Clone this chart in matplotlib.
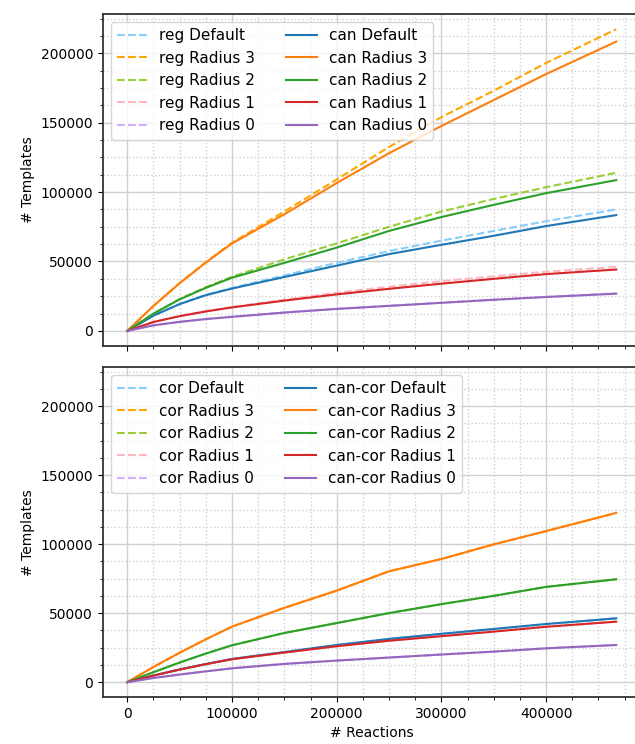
import matplotlib.pyplot as plt
from matplotlib.ticker import MultipleLocator
import numpy as np

# ==================== Data ====================
reactions = [0, 25000, 50000, 75000, 100000, 150000, 200000, 250000,
             300000, 350000, 400000, 467000]

# top panel: regular vs canonical templates
reg_default = [0, 11000, 19500, 26000, 31000, 40000, 49000, 57500, 65000, 72000, 79000, 87500]
reg_r3 = [0, 18000, 34500, 49500, 63500, 86000, 109100, 132500, 154000, 173000, 193000, 217300]
reg_r2 = [0, 12500, 23000, 31500, 39000, 51500, 63000, 75000, 86000, 95000, 103500, 113900]
reg_r1 = [0, 6500, 10800, 14200, 17200, 22500, 27500, 31800, 35800, 39300, 42600, 46100]
reg_r0 = [0, 4000, 6500, 8500, 10200, 13300, 15900, 18100, 20300, 22500, 24500, 27000]

can_default = [0, 11000, 19300, 25700, 30500, 38800, 47000, 55300, 62000, 68500, 75500, 83400]
can_r3 = [0, 18000, 34300, 49200, 63000, 84000, 106500, 128000, 147600, 166300, 185000, 208400]
can_r2 = [0, 12400, 22700, 31000, 38300, 49000, 60000, 72000, 82000, 90800, 99200, 108600]
can_r1 = [0, 6400, 10600, 14000, 16900, 21800, 26300, 30300, 34000, 37500, 40900, 44200]
can_r0 = [0, 4000, 6500, 8500, 10100, 13200, 15800, 18000, 20200, 22400, 24400, 26800]

# bottom panel: corrected vs canonical-corrected templates
cor_default = [0, 4800, 9200, 13100, 16800, 21800, 26900, 31300, 35000, 38500, 42100, 46200]
cor_r3 = [0, 11000, 21300, 31000, 40200, 53800, 66300, 80300, 89200, 99800, 109400, 122600]
cor_r2 = [0, 7200, 14200, 20700, 26700, 35600, 42800, 50000, 56500, 62500, 69000, 74500]
cor_r1 = [0, 4700, 9100, 13000, 16600, 21400, 26000, 30000, 33300, 36600, 40100, 43800]
cor_r0 = [0, 3000, 5500, 7800, 10000, 13200, 15600, 17800, 20000, 22100, 24500, 26900]

cancor_default = [0, 4800, 9200, 13100, 16800, 21800, 26900, 31300, 35000, 38500, 42100, 46200]
cancor_r3 = [0, 11000, 21300, 31000, 40200, 53800, 66300, 80300, 89200, 99800, 109400, 122600]
cancor_r2 = [0, 7200, 14200, 20700, 26700, 35600, 42800, 50000, 56500, 62500, 69000, 74500]
cancor_r1 = [0, 4700, 9100, 13000, 16600, 21400, 26000, 30000, 33300, 36600, 40100, 43800]
cancor_r0 = [0, 3000, 5500, 7800, 10000, 13200, 15600, 17800, 20000, 22100, 24500, 26900]

labels = ["Default", "Radius 3", "Radius 2", "Radius 1", "Radius 0"]
light_colors = ['lightskyblue', 'orange', 'yellowgreen', 'lightpink', '#d2aeff']
dark_colors = ['tab:blue', 'tab:orange', 'tab:green', 'tab:red', 'tab:purple']

# ==================== Figure ====================
fig = plt.figure(figsize=(6.35, 7.44), dpi=100)
ax1 = fig.add_axes([0.162, 0.535, 0.847, 0.446])
ax2 = fig.add_axes([0.162, 0.063, 0.847, 0.4435], sharex=ax1, sharey=ax1)

panels = [
    (ax1, "reg", "can", [reg_default, reg_r3, reg_r2, reg_r1, reg_r0],
     [can_default, can_r3, can_r2, can_r1, can_r0]),
    (ax2, "cor", "can-cor", [cor_default, cor_r3, cor_r2, cor_r1, cor_r0],
     [cancor_default, cancor_r3, cancor_r2, cancor_r1, cancor_r0]),
]

for ax, pre_a, pre_b, dashed, solid in panels:
    for lab, ys, col in zip(labels, dashed, light_colors):
        ax.plot(reactions, ys, '--', color=col, linewidth=1.5, label=f"{pre_a} {lab}")
    for lab, ys, col in zip(labels, solid, dark_colors):
        ax.plot(reactions, ys, '-', color=col, linewidth=1.5, label=f"{pre_b} {lab}")

    ax.xaxis.set_major_locator(MultipleLocator(100000))
    ax.xaxis.set_minor_locator(MultipleLocator(25000))
    ax.yaxis.set_major_locator(MultipleLocator(50000))
    ax.yaxis.set_minor_locator(MultipleLocator(12500))
    ax.grid(True, which='major', color='#d0d0d0', linewidth=1)
    ax.grid(True, which='minor', color='#d0d0d0', linestyle=':', linewidth=1)
    ax.set_axisbelow(True)
    ax.set_ylabel("# Templates")
    ax.legend(loc='upper left', ncol=2, fontsize=11)
    for s in ['left', 'top', 'bottom', 'right']:
        ax.spines[s].set_color('#333333')
        ax.spines[s].set_linewidth(1.3)

ax1.tick_params(labelbottom=False)
ax2.set_xlabel("# Reactions")

fig.savefig("out.png", dpi=100)
